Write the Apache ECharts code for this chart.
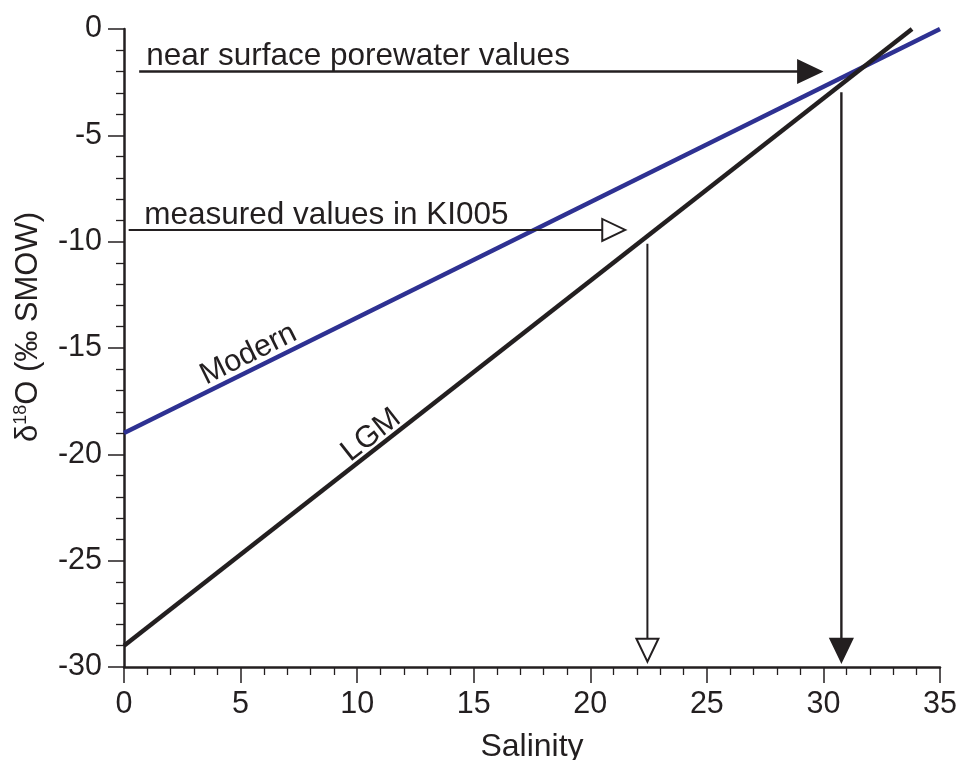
<!DOCTYPE html>
<html><head><meta charset="utf-8">
<script src="https://cdn.jsdelivr.net/npm/echarts@6/dist/echarts.min.js"></script>
<style>html,body{margin:0;padding:0;background:#fff}#c{width:958px;height:760px}</style>
</head><body><div id="c"></div>
<script>
// ---- data ----
const salinityRange = [0, 35];
const salinityStep = 5;
const d18ORange = [-30, 0];
const d18OStep = 5;
const modernLine = [[0, -19], [35, 0]];
const lgmLine = [[0, -29], [33.8, 0]];
const arrowStart = [[0.65, -2], [0.2, -9.45], [22.45, -10.1], [30.77, -2.98]];
const arrowEnd = [[29.9, -2], [21.5, -9.45], [22.45, -29.75], [30.77, -29.75]];
const arrowFilled = [true, false, false, true];
const noteText = ['near surface porewater values', 'measured values in KI005'];
const noteAnchor = [[0.95, -2], [0.87, -9.45]];
const lineLabelText = ['Modern', 'LGM'];
const lineLabelAnchor = [[5.34, -15.3], [10.6, -19.1]];

// ---- style ----
const INK = '#231f20';
const BLUE = '#2e3192';
const FONT = '"Liberation Sans", Arial, Helvetica, sans-serif';

const chart = echarts.init(document.getElementById('c'), null, {renderer: 'canvas'});

function renderArrow(params, api) {
  const i = params.dataIndex;
  const p1 = api.coord([api.value(0), api.value(1)]);
  const p2 = api.coord([api.value(2), api.value(3)]);
  const dx = p2[0] - p1[0], dy = p2[1] - p1[1];
  const len = Math.hypot(dx, dy), ux = dx / len, uy = dy / len;
  const L = 23, W = 11;
  const bx = p2[0] - ux * L, by = p2[1] - uy * L;
  const nx = -uy, ny = ux;
  return {
    type: 'group',
    children: [
      {type: 'line', shape: {x1: p1[0], y1: p1[1], x2: bx, y2: by},
       style: {stroke: INK, lineWidth: arrowFilled[i] ? 2.4 : 2}},
      {type: 'polygon',
       shape: {points: [[p2[0], p2[1]], [bx + nx * W, by + ny * W], [bx - nx * W, by - ny * W]]},
       style: {fill: arrowFilled[i] ? INK : '#ffffff', stroke: INK, lineWidth: 2, lineJoin: 'miter'}}
    ]
  };
}

function renderNote(params, api) {
  const i = params.dataIndex;
  const p = api.coord([api.value(0), api.value(1)]);
  return {
    type: 'text',
    x: p[0], y: p[1] + 1,
    style: {text: noteText[i], fill: INK, fontSize: 31.5, fontFamily: FONT,
            align: 'left', verticalAlign: 'bottom'}
  };
}

const lineRefs = [modernLine, lgmLine];
function renderLineLabel(params, api) {
  const i = params.dataIndex;
  const p = api.coord([api.value(0), api.value(1)]);
  const a = api.coord(lineRefs[i][0]), b = api.coord(lineRefs[i][1]);
  const ang = Math.atan2(-(b[1] - a[1]), b[0] - a[0]);
  return {
    type: 'text',
    x: p[0], y: p[1], rotation: ang,
    style: {text: lineLabelText[i], fill: INK, fontSize: 30.5, fontFamily: FONT,
            align: 'center', verticalAlign: 'middle'}
  };
}

const axisCommon = {
  type: 'value',
  axisLine: {show: true, onZero: false, lineStyle: {color: INK, width: 2.5}},
  axisTick: {show: true, inside: false, length: 16, lineStyle: {color: INK, width: 1.5}},
  minorTick: {show: true, splitNumber: 5, length: 8, lineStyle: {color: INK, width: 1.3}},
  splitLine: {show: false},
  minorSplitLine: {show: false},
  axisLabel: {color: INK, fontSize: 30.5, fontFamily: FONT}
};

const option = {
  animation: false,
  backgroundColor: '#ffffff',
  grid: {left: 124, right: 18, top: 29, bottom: 93, containLabel: false, outerBoundsMode: 'none'},
  xAxis: Object.assign({}, axisCommon, {
    min: salinityRange[0], max: salinityRange[1], interval: salinityStep,
    name: 'Salinity', nameLocation: 'middle', nameGap: 64,
    nameTextStyle: {color: INK, fontSize: 32, fontFamily: FONT},
    axisLabel: Object.assign({}, axisCommon.axisLabel, {margin: 22})
  }),
  yAxis: Object.assign({}, axisCommon, {
    min: d18ORange[0], max: d18ORange[1], interval: d18OStep,
    axisLabel: Object.assign({}, axisCommon.axisLabel, {margin: 22})
  }),
  graphic: [{
    type: 'text', x: 28, y: 327, rotation: Math.PI / 2,
    style: {
      text: '{a|δ}{s|18}{a|O (‰ SMOW)}',
      align: 'center', verticalAlign: 'middle',
      rich: {
        a: {fontSize: 31, fontFamily: FONT, fill: INK, color: INK, lineHeight: 32, verticalAlign: 'bottom'},
        s: {fontSize: 18, fontFamily: FONT, fill: INK, color: INK, lineHeight: 32, verticalAlign: 'top'}
      }
    }
  }],
  series: [
    {type: 'line', name: 'Modern', data: modernLine, symbol: 'none',
     lineStyle: {color: BLUE, width: 4.5}, z: 3},
    {type: 'line', name: 'LGM', data: lgmLine, symbol: 'none',
     lineStyle: {color: INK, width: 4.5}, z: 3},
    {type: 'custom', name: 'arrows', renderItem: renderArrow, clip: false, z: 4,
     data: arrowStart.map((s, i) => [s[0], s[1], arrowEnd[i][0], arrowEnd[i][1]]),
     encode: {x: [0, 2], y: [1, 3]}},
    {type: 'custom', name: 'notes', renderItem: renderNote, clip: false, z: 5,
     data: noteAnchor, encode: {x: 0, y: 1}},
    {type: 'custom', name: 'lineLabels', renderItem: renderLineLabel, clip: false, z: 5,
     data: lineLabelAnchor, encode: {x: 0, y: 1}}
  ]
};
chart.setOption(option);
</script>
</body></html>
